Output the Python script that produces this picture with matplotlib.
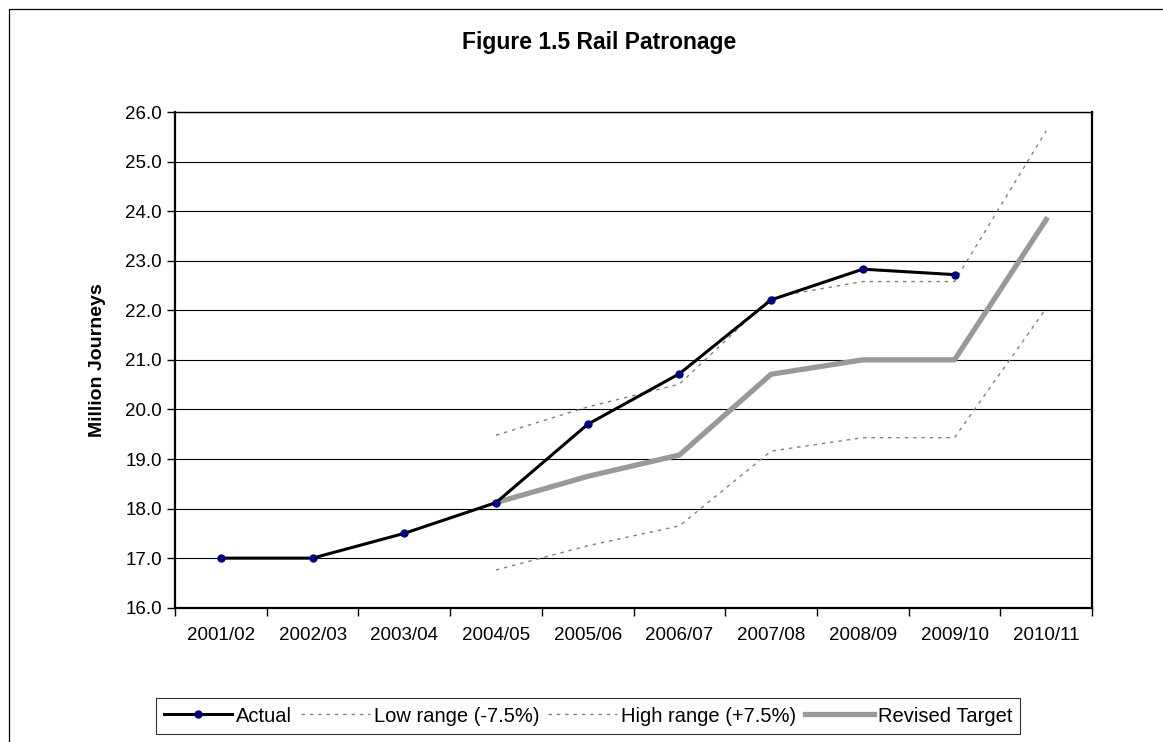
import matplotlib.pyplot as plt
import numpy as np
from matplotlib.patches import Rectangle

plt.rcParams['font.family'] = ['Liberation Sans', 'DejaVu Sans']

# Data (million journeys)
years = ["2001/02", "2002/03", "2003/04", "2004/05", "2005/06",
         "2006/07", "2007/08", "2008/09", "2009/10", "2010/11"]
actual = [17.0, 17.0, 17.5, 18.12, 19.7, 20.72, 22.21, 22.83, 22.72, np.nan]
low_range = [np.nan, np.nan, np.nan, 16.76, 17.25, 17.65, 19.16, 19.43, 19.43, 22.04]
high_range = [np.nan, np.nan, np.nan, 19.48, 20.05, 20.51, 22.26, 22.58, 22.58, 25.62]
revised_target = [np.nan, np.nan, np.nan, 18.12, 18.65, 19.08, 20.71, 21.0, 21.0, 23.83]

x = np.arange(len(years))

fig = plt.figure(figsize=(11.63, 7.42), dpi=100)
ax = fig.add_axes([0.1505, 0.181, 0.7885, 0.668])

# outer chart border (runs off the right and bottom edges)
fig.patches.append(Rectangle((0.0077, -0.05), 1.05, 1.038, transform=fig.transFigure,
                             fill=False, edgecolor='black', linewidth=0.9))

ax.plot(x, actual, color='black', linewidth=2.2, marker='o', markersize=5,
        markerfacecolor='#000080', markeredgecolor='#000080', label='Actual', zorder=4)
ax.plot(x, low_range, color='#808080', linewidth=1.0, linestyle=(0, (2.5, 3.5)),
        label='Low range (-7.5%)', zorder=3)
ax.plot(x, high_range, color='#808080', linewidth=1.0, linestyle=(0, (2.5, 3.5)),
        label='High range (+7.5%)', zorder=3)
ax.plot(x, revised_target, color='#999999', linewidth=3.8, label='Revised Target', zorder=2)

ax.set_xlim(-0.5, len(years) - 0.5)
ax.set_ylim(16, 26)
ax.set_yticks(np.arange(16, 26.1, 1))
ax.set_yticklabels([f"{v:.1f}" for v in np.arange(16, 26.1, 1)], fontsize=13.5)
ax.yaxis.grid(True, color='black', linewidth=0.8)
ax.set_axisbelow(True)

ax.set_xticks(x)
ax.set_xticklabels(years, fontsize=13.5)
ax.tick_params(axis='x', which='major', length=0, pad=14)
ax.set_xticks(np.arange(-0.5, len(years)), minor=True)
ax.tick_params(axis='x', which='minor', length=6, width=1, direction='out')
ax.tick_params(axis='y', length=6, width=1, direction='out')

for s in ax.spines.values():
    s.set_color('black')
    s.set_linewidth(1.0)
ax.spines['left'].set_linewidth(1.6)
ax.spines['bottom'].set_linewidth(1.6)
ax.spines['right'].set_linewidth(1.6)

ax.set_ylabel("Million Journeys", fontsize=14, fontweight='bold', labelpad=14)
fig.text(0.515, 0.943, "Figure 1.5 Rail Patronage", ha='center', va='center',
         fontsize=16.5, fontweight='bold')

leg = fig.legend(loc='center', bbox_to_anchor=(0.5056, 0.035), ncol=4, fontsize=14.5,
                 frameon=True, fancybox=False, edgecolor='black', handlelength=3.4,
                 handletextpad=0.2, columnspacing=0.45, borderpad=0.4)
leg.get_frame().set_linewidth(0.8)

fig.savefig("out.png", dpi=100)
